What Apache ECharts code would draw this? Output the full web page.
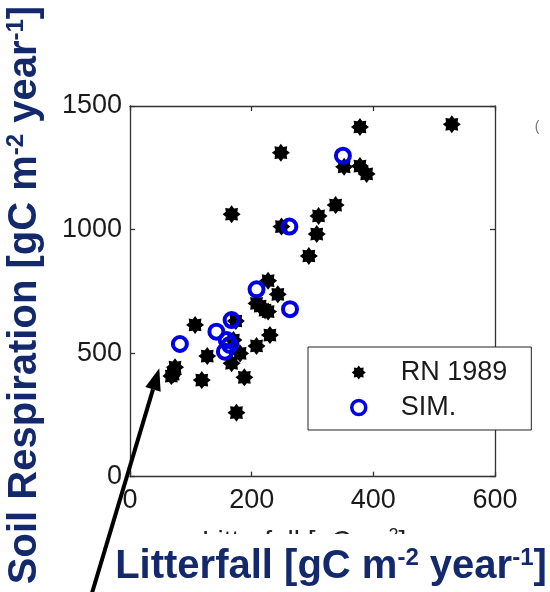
<!DOCTYPE html>
<html><head><meta charset="utf-8">
<script src="https://cdn.jsdelivr.net/npm/echarts@6/dist/echarts.min.js"></script>
<style>html,body{margin:0;padding:0;background:#fff}#c{width:550px;height:592px}</style>
</head><body><div id="c"></div>
<script>
// RN 1989 observations (litterfall, soil respiration)
const rnX = [378, 529, 248, 352, 378, 389, 167, 249, 310, 338, 307, 294, 227, 243, 208, 222, 227, 214, 107, 174, 230, 208, 127, 181, 167, 74, 68, 118, 188, 175, 170, 71];
const rnY = [1415, 1426, 1311, 1254, 1257, 1225, 1062, 1012, 1055, 1099, 982, 893, 793, 738, 701, 674, 668, 690, 614, 630, 573, 529, 488, 499, 459, 443, 407, 391, 402, 259, 553, 415];
// SIM. simulated values
const simX = [350, 262, 208, 263, 167, 142, 82, 159, 164, 156];
const simY = [1299, 1012, 758, 678, 634, 587, 537, 553, 533, 506];
const xTicks = [0, 200, 400, 600];
const yTicks = [0, 500, 1000, 1500];
const seriesNames = ['RN 1989', 'SIM.'];

function starPath(n, rIn) {
  let d = '';
  for (let i = 0; i < 2 * n; i++) {
    const a = Math.PI * i / n - Math.PI / 2;
    const r = (i % 2 === 0) ? 10 : 10 * rIn;
    const px = (10 + r * Math.cos(a)).toFixed(2), py = (10 + r * Math.sin(a)).toFixed(2);
    d += (i === 0 ? 'M' : 'L') + px + ' ' + py + ' ';
  }
  return 'path://' + d + 'Z';
}
const STAR = starPath(8, 0.7);
const NAVY = '#13296b';
const FONT = '"Liberation Sans", Arial, sans-serif';
const BLUE = '#0000e6';

const rnData = rnX.map((x, i) => [x, rnY[i]]);
const simData = simX.map((x, i) => [x, simY[i]]);

const axX = (pos, labels) => ({
  type: 'value', position: pos, min: xTicks[0], max: xTicks[xTicks.length - 1], interval: 200,
  axisLine: { onZero: false, lineStyle: { color: '#333', width: 1.3 } },
  axisTick: { inside: true, length: 5, lineStyle: { color: '#333', width: 1.3 } },
  axisLabel: { show: labels, fontSize: 27, color: '#1a1a1a', fontFamily: FONT, margin: 10, formatter: v => String(v) },
  splitLine: { show: false }
});
const axY = (pos, labels) => ({
  type: 'value', position: pos, min: yTicks[0], max: yTicks[yTicks.length - 1], interval: 500,
  axisLine: { onZero: false, lineStyle: { color: '#333', width: 1.3 } },
  axisTick: { inside: true, length: 5, lineStyle: { color: '#333', width: 1.3 } },
  axisLabel: { show: labels, fontSize: 27, color: '#1a1a1a', fontFamily: FONT, margin: 8, formatter: v => String(v) },
  splitLine: { show: false }
});

const tip = [159.3, 368.3], tail = [91.7, 594];
const dx = tip[0] - tail[0], dy = tip[1] - tail[1], L = Math.hypot(dx, dy);
const ux = dx / L, uy = dy / L, hl = 22, hw = 8;
const bc = [tip[0] - hl * ux, tip[1] - hl * uy];
const nx = -uy, ny = ux;

const titleRich = {
  a: { fontSize: 40, fontWeight: 'bold', fontFamily: FONT, fill: NAVY, lineHeight: 42 },
  s: { fontSize: 24, fontWeight: 'bold', fontFamily: FONT, fill: NAVY, verticalAlign: 'top', lineHeight: 24 }
};

const chart = echarts.init(document.getElementById('c'), null, { renderer: 'canvas' });
chart.setOption({
  animation: false,
  backgroundColor: '#fff',
  grid: { left: 130, top: 106, width: 365, height: 370.7 },
  xAxis: [axX('bottom', true), axX('top', false)],
  yAxis: [axY('left', true), axY('right', false)],
  legend: {
    left: 308, top: 347, orient: 'vertical',
    borderColor: '#222', borderWidth: 1, borderRadius: 0,
    backgroundColor: '#fff',
    padding: [12, 24, 9, 42], itemGap: 8, itemWidth: 14, itemHeight: 14,
    textStyle: { fontSize: 27, color: '#1a1a1a', fontFamily: FONT, padding: [0, 0, 0, 30] },
    data: [
      { name: seriesNames[0], icon: STAR, itemStyle: { color: '#000', opacity: 1 } },
      { name: seriesNames[1], icon: 'circle', itemStyle: { color: 'rgba(0,0,0,0)', borderColor: BLUE, borderWidth: 3.5, opacity: 1 } }
    ]
  },
  series: [
    { name: seriesNames[0], type: 'scatter', data: rnData, symbol: STAR, symbolSize: 18,
      itemStyle: { color: '#000', opacity: 1 }, z: 2 },
    { name: seriesNames[1], type: 'scatter', data: simData, symbol: 'circle', symbolSize: 14,
      itemStyle: { color: 'rgba(0,0,0,0)', borderColor: BLUE, borderWidth: 4, opacity: 1 }, z: 3 }
  ],
  graphic: [
    { type: 'text', x: 202, y: 527, z: 1, style: {
      text: '{a|Litterfall [gC m}{s|-2}{a|]}', fill: '#222',
      rich: { a: { fontSize: 28, fontFamily: FONT, fill: '#222', lineHeight: 30 },
              s: { fontSize: 18, fontFamily: FONT, fill: '#222', verticalAlign: 'top', lineHeight: 18 } } } },
    { type: 'rect', z: 2, shape: { x: 110, y: 534, width: 440, height: 60 }, style: { fill: '#fff' } },
    { type: 'text', x: 537, y: 127, z: 2, style: { text: '(', fontSize: 14, fill: '#777', fontFamily: FONT, align: 'center', verticalAlign: 'middle' } },
    { type: 'text', x: 331, y: 567, z: 5, style: {
      text: '{a|Litterfall [gC m}{s|-2}{a| year}{s|-1}{a|]}', align: 'center', verticalAlign: 'middle', rich: titleRich } },
    { type: 'text', x: 25, y: 295, rotation: Math.PI / 2, z: 5, style: {
      text: '{a|Soil Respiration [gC m}{s|-2}{a| year}{s|-1}{a|]}', align: 'center', verticalAlign: 'middle', rich: titleRich } },
    { type: 'line', z: 6, shape: { x1: tail[0], y1: tail[1], x2: bc[0], y2: bc[1] }, style: { stroke: '#000', lineWidth: 4 } },
    { type: 'polygon', z: 6, shape: { points: [tip, [bc[0] + hw * nx, bc[1] + hw * ny], [bc[0] - hw * nx, bc[1] - hw * ny]] }, style: { fill: '#000' } }
  ]
});
</script></body></html>
